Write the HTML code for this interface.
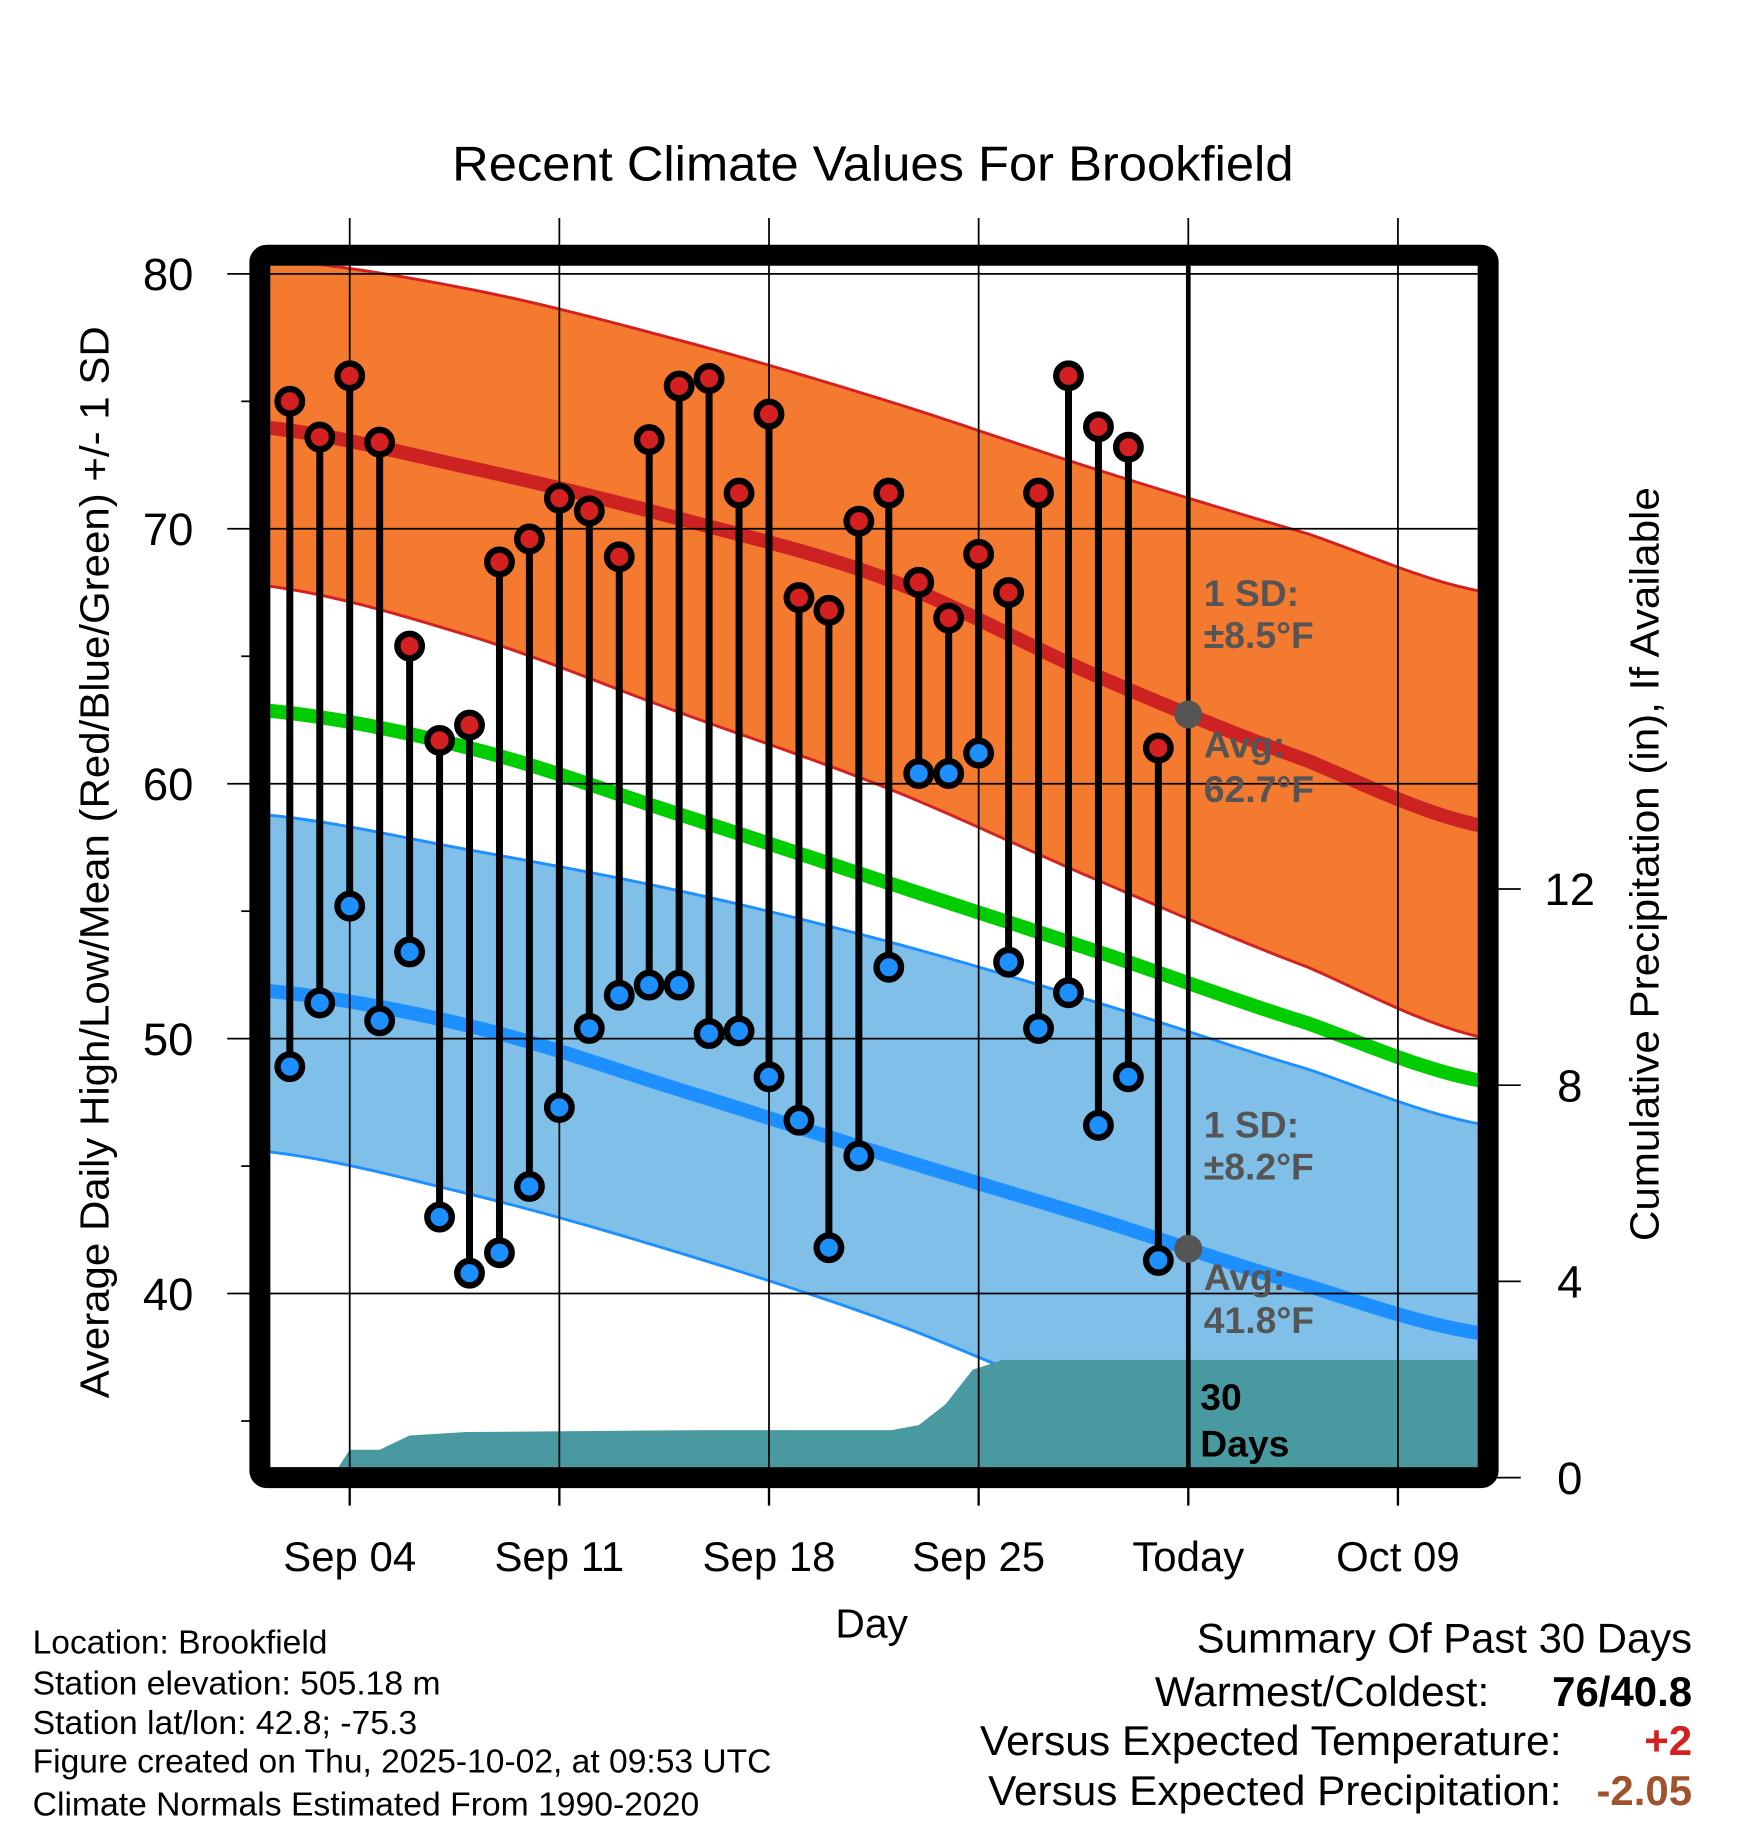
<!DOCTYPE html>
<html><head><meta charset="utf-8"><style>
html,body{margin:0;padding:0;background:#fff}
svg{display:block;font-family:"Liberation Sans",Arial,sans-serif}
</style></head><body>
<svg id="chart" width="1748" height="1828" viewBox="0 0 1500 1568.6" xmlns="http://www.w3.org/2000/svg">
<defs><clipPath id="pc"><rect x="232" y="228" width="1036" height="1031"/></clipPath></defs>
<g id="bands" clip-path="url(#pc)"></g>
<g id="grid"></g>
<g id="marks" clip-path="url(#pc)"></g>
<rect x="223" y="219" width="1054" height="1049" rx="6" fill="none" stroke="#000" stroke-width="18"/>
<g id="labels"></g>
<text x="388" y="155" font-size="42" textLength="722" lengthAdjust="spacingAndGlyphs">Recent Climate Values For Brookfield</text>
<text x="748" y="1405" text-anchor="middle" font-size="35">Day</text>
<text transform="translate(93,1200) rotate(-90)" font-size="35" textLength="920" lengthAdjust="spacingAndGlyphs">Average Daily High/Low/Mean (Red/Blue/Green) +/- 1 SD</text>
<text transform="translate(1423,1065) rotate(-90)" font-size="35" textLength="647" lengthAdjust="spacingAndGlyphs">Cumulative Precipitation (in), If Available</text>
<g font-size="29" lengthAdjust="spacingAndGlyphs">
<text x="28" y="1419" textLength="253" lengthAdjust="spacingAndGlyphs">Location: Brookfield</text>
<text x="28" y="1454" textLength="350" lengthAdjust="spacingAndGlyphs">Station elevation: 505.18 m</text>
<text x="28" y="1488" textLength="330" lengthAdjust="spacingAndGlyphs">Station lat/lon: 42.8; -75.3</text>
<text x="28" y="1521" textLength="634" lengthAdjust="spacingAndGlyphs">Figure created on Thu, 2025-10-02, at 09:53 UTC</text>
<text x="28" y="1558" textLength="572" lengthAdjust="spacingAndGlyphs">Climate Normals Estimated From 1990-2020</text>
</g>
<g font-size="36">
<text x="1027" y="1418" textLength="425" lengthAdjust="spacingAndGlyphs">Summary Of Past 30 Days</text>
<text x="991" y="1464" textLength="287" lengthAdjust="spacingAndGlyphs">Warmest/Coldest:</text>
<text x="1452" y="1464" text-anchor="end" font-weight="bold">76/40.8</text>
<text x="841" y="1506" textLength="499" lengthAdjust="spacingAndGlyphs">Versus Expected Temperature:</text>
<text x="1452" y="1506" text-anchor="end" font-weight="bold" fill="#d42020">+2</text>
<text x="848" y="1549" textLength="492" lengthAdjust="spacingAndGlyphs">Versus Expected Precipitation:</text>
<text x="1452" y="1549" text-anchor="end" font-weight="bold" fill="#a0522d">-2.05</text>
</g>
</svg>
<script>
const normDays=[0,7,14,21,28,35,41];
const highUpper=[80.6,79.4,77.4,75.0,72.3,69.8,67.5];
const highMean=[74.0,72.4,70.4,68.0,64.2,60.9,58.3];
const highLower=[67.8,65.8,62.8,59.8,56.2,52.8,50.0];
const meanTemp=[62.9,61.4,58.8,56.1,53.4,50.6,48.3];
const lowUpper=[58.8,57.4,55.8,53.8,51.4,48.8,46.6];
const lowMean=[51.9,50.5,48.0,45.4,42.9,40.3,38.4];
const lowLower=[45.6,43.9,41.6,38.9,35.6,32.8,30.5];
const obsDays=[1,2,3,4,5,6,7,8,9,10,11,12,13,14,15,16,17,18,19,20,21,22,23,24,25,26,27,28,29,30];
const highs=[75.0,73.6,76.0,73.4,65.4,61.7,62.3,68.7,69.6,71.2,70.7,68.9,73.5,75.6,75.9,71.4,74.5,67.3,66.8,70.3,71.4,67.9,66.5,69.0,67.5,71.4,76.0,74.0,73.2,61.4];
const lows=[48.9,51.4,55.2,50.7,53.4,43.0,40.8,41.6,44.2,47.3,50.4,51.7,52.1,52.1,50.2,50.3,48.5,46.8,41.8,45.4,52.8,60.4,60.4,61.2,53.0,50.4,51.8,46.6,48.5,41.3];
const precipDays=[2.4,3,4,5,6.9,15,21.1,22,22.9,23.8,24.8,41];
const precipCum=[0,0.57,0.57,0.86,0.93,0.97,0.97,1.07,1.5,2.2,2.4,2.4];
const dateTicks=[3,10,17,24,31,38];
const dateLabels=["Sep 04","Sep 11","Sep 18","Sep 25","Today","Oct 09"];
const tempTicks=[80,70,60,50,40];
const precipTicks=[0,4,8,12];
const todayDay=31;

const X=d=>223+25.7*d;
const Y=t=>235+(80-t)*21.875;
const P=p=>1268-p*42.1;
const NS="http://www.w3.org/2000/svg";
function mk(tag,attrs,parent){const e=document.createElementNS(NS,tag);for(const k in attrs)e.setAttribute(k,attrs[k]);parent.appendChild(e);return e;}
const bands=document.getElementById('bands'),grid=document.getElementById('grid'),marks=document.getElementById('marks'),labels=document.getElementById('labels');
function interp(arr,d){
 let i=0;while(i<normDays.length-2&&d>normDays[i+1])i++;
 const p0=arr[Math.max(i-1,0)],p1=arr[i],p2=arr[i+1],p3=arr[Math.min(i+2,arr.length-1)];
 const t=(d-normDays[i])/(normDays[i+1]-normDays[i]);
 return 0.5*((2*p1)+(-p0+p2)*t+(2*p0-5*p1+4*p2-p3)*t*t+(-p0+3*p1-3*p2+p3)*t*t*t);
}
const samp=[];for(let d=0;d<=41;d+=0.5)samp.push(d);
const line=arr=>samp.map(d=>X(d)+','+Y(interp(arr,d))).join(' ');
const band=(a,b)=>line(a)+' '+samp.map(d=>X(d)+','+Y(interp(b,d))).reverse().join(' ');

let e;
e=mk('polygon',{points:band(highUpper,highLower),fill:'#f47a30'},bands);

e=mk('polygon',{points:band(lowUpper,lowLower),fill:'#80c0e8'},bands);

[[highUpper,'#d42020',2.5],[highLower,'#d42020',2.5],[lowUpper,'#1e8fff',2.5],[lowLower,'#1e8fff',2.5]].forEach(([a,c,w])=>{
 e=mk('polyline',{points:line(a),fill:'none',stroke:c,'stroke-width':w},bands);
 
});
const pts=precipDays.map((d,i)=>X(d)+','+P(precipCum[i])).join(' ');
e=mk('polygon',{points:X(precipDays[0])+','+P(0)+' '+pts+' '+X(41)+','+P(0),fill:'#4899a0'},bands);

e=mk('polyline',{points:line(highMean),fill:'none',stroke:'#cc2222','stroke-width':12},bands);

e=mk('polyline',{points:line(meanTemp),fill:'none',stroke:'#00cc00','stroke-width':12},bands);

e=mk('polyline',{points:line(lowMean),fill:'none',stroke:'#1e8fff','stroke-width':12},bands);


dateTicks.forEach((d,i)=>{
 e=mk('line',{x1:X(d),x2:X(d),y1:187,y2:1260,stroke:'#000','stroke-width':1.5},grid);
 
 e=mk('line',{x1:X(d),x2:X(d),y1:1270,y2:1292,stroke:'#000','stroke-width':2},grid);
 
 e=mk('text',{x:X(d),y:1348,'text-anchor':'middle','font-size':36},labels);e.textContent=dateLabels[i];
 
});
tempTicks.forEach(t=>{
 e=mk('line',{x1:195,x2:1268,y1:Y(t),y2:Y(t),stroke:'#000','stroke-width':1.5},grid);
 
 e=mk('text',{x:166,y:Y(t)+14,'text-anchor':'end','font-size':39},labels);e.textContent=t;
 
});
[75,65,55,45,35].forEach(t=>{
 e=mk('line',{x1:207,x2:218,y1:Y(t),y2:Y(t),stroke:'#000','stroke-width':1.5},grid);
 
});
precipTicks.forEach(p=>{
 e=mk('line',{x1:1282,x2:1305,y1:P(p),y2:P(p),stroke:'#000','stroke-width':1.5},grid);
 
 e=mk('text',{x:1347,y:P(p)+14,'text-anchor':'middle','font-size':39},labels);e.textContent=p;
 
});

obsDays.forEach((d,i)=>{
 e=mk('line',{x1:X(d),x2:X(d),y1:Y(highs[i]),y2:Y(lows[i]),stroke:'#000','stroke-width':6},marks);
 
});
obsDays.forEach((d,i)=>{
 e=mk('circle',{cx:X(d),cy:Y(highs[i]),r:10.5,fill:'#d42020',stroke:'#000','stroke-width':5.5},marks);
 
 e=mk('circle',{cx:X(d),cy:Y(lows[i]),r:10.5,fill:'#1e8fff',stroke:'#000','stroke-width':5.5},marks);
 
});
e=mk('line',{x1:X(todayDay),x2:X(todayDay),y1:214,y2:1260,stroke:'#000','stroke-width':4},marks);

e=mk('circle',{cx:X(todayDay),cy:Y(interp(highMean,todayDay)),r:12,fill:'#555'},marks);

e=mk('circle',{cx:X(todayDay),cy:Y(interp(lowMean,todayDay)),r:12,fill:'#555'},marks);


const ann=[["1 SD:",520,'#555'],["±8.5°F",556,'#555'],["Avg:",650,'#555'],["62.7°F",688,'#555'],["1 SD:",976,'#555'],["±8.2°F",1012,'#555'],["Avg:",1107,'#555'],["41.8°F",1144,'#555'],["30",1210,'#000'],["Days",1250,'#000']];
ann.forEach(([t,y,c],i)=>{
 e=mk('text',{x:i>=8?1030:1033,y:y,'font-size':32,'font-weight':'bold',fill:c},labels);e.textContent=t;
 
});
</script>
</body></html>
